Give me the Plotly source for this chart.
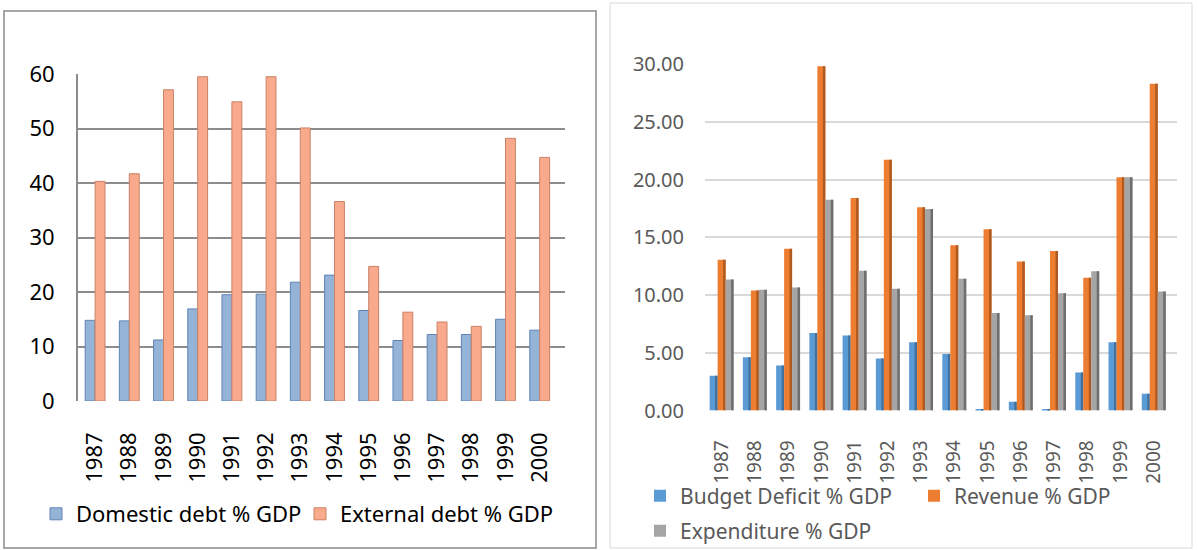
import plotly.graph_objects as go

W, H = 1198, 550

years = ["1987", "1988", "1989", "1990", "1991", "1992", "1993",
         "1994", "1995", "1996", "1997", "1998", "1999", "2000"]

domestic_debt = [14.8, 14.7, 11.2, 16.9, 19.5, 19.6, 21.8, 23.1, 16.6, 11.1, 12.2, 12.2, 15.0, 13.0]
external_debt = [40.3, 41.7, 57.1, 59.5, 54.9, 59.5, 50.1, 36.6, 24.7, 16.3, 14.5, 13.7, 48.2, 44.7]

budget_deficit = [3.0, 4.6, 3.9, 6.7, 6.5, 4.5, 5.9, 4.9, 0.05, 0.75, 0.1, 3.3, 5.9, 1.45]
revenue = [13.05, 10.4, 14.0, 29.8, 18.4, 21.7, 17.6, 14.3, 15.7, 12.9, 13.8, 11.5, 20.2, 28.3]
expenditure = [11.35, 10.45, 10.65, 18.25, 12.1, 10.55, 17.45, 11.4, 8.45, 8.25, 10.15, 12.05, 20.2, 10.3]

left_ticks = [0, 10, 20, 30, 40, 50, 60]
right_ticks = [0, 5, 10, 15, 20, 25, 30]


def px(x):
    return x / W


def py(y):
    return 1 - y / H


FONT = "Noto Sans"

fig = go.Figure()

# Left chart
fig.add_trace(go.Bar(x=years, y=domestic_debt, name="Domestic debt % GDP",
                     width=0.29, offset=-0.29,
                     marker=dict(color="#95B3D7", line=dict(color="#5F83B4", width=1)),
                     xaxis="x", yaxis="y", legend="legend"))
fig.add_trace(go.Bar(x=years, y=external_debt, name="External debt % GDP",
                     width=0.29, offset=0.0,
                     marker=dict(color="#F9AA8C", line=dict(color="#C98168", width=1)),
                     xaxis="x", yaxis="y", legend="legend"))

# Right chart (front faces + darker side faces for the 3-D look)
right_series = [
    ("Budget Deficit % GDP", budget_deficit, "#5B9BD5", "#41719C", -0.36, "legend2"),
    ("Revenue % GDP", revenue, "#ED7D31", "#AE5A21", -0.12, "legend2"),
    ("Expenditure % GDP", expenditure, "#A5A5A5", "#6E6E6E", 0.12, "legend3"),
]
BW = 0.24
SIDE = 0.075
for name, vals, col, dark, off, leg in right_series:
    fig.add_trace(go.Bar(x=years, y=vals, name=name, width=BW, offset=off,
                         marker=dict(color=col, line=dict(width=0)),
                         xaxis="x2", yaxis="y2", legend=leg))
    fig.add_trace(go.Bar(x=years, y=vals, name=name, width=SIDE, offset=off + BW - SIDE,
                         marker=dict(color=dark, line=dict(width=0)),
                         xaxis="x2", yaxis="y2", showlegend=False, hoverinfo="skip"))

shapes = [
    dict(type="rect", xref="paper", yref="paper", x0=px(4), x1=px(596), y0=py(11), y1=py(548),
         line=dict(color="#A6A6A6", width=2), fillcolor="rgba(0,0,0,0)", layer="below"),
    dict(type="rect", xref="paper", yref="paper", x0=px(610), x1=px(1192), y0=py(3), y1=py(548),
         line=dict(color="#D9D9D9", width=1), fillcolor="rgba(0,0,0,0)", layer="below"),
]

fig.update_layout(
    width=W, height=H,
    margin=dict(l=0, r=0, t=0, b=0, autoexpand=False),
    paper_bgcolor="white", plot_bgcolor="white",
    barmode="overlay",
    showlegend=True,
    shapes=shapes,
    font=dict(family=FONT, color="#000000"),
    xaxis=dict(domain=[px(78), px(565)], range=[-0.5, 13.74], type="category",
               tickangle=-90, tickfont=dict(size=22, color="#000000"),
               showgrid=False, showline=False, ticks="", ticklabelstandoff=26,
               automargin=False, anchor="y"),
    yaxis=dict(domain=[py(401), py(74)], range=[0, 60], tickvals=left_ticks,
               tickfont=dict(size=22, color="#000000"),
               showgrid=True, gridcolor="#8C8C8C", gridwidth=2,
               showline=True, linecolor="#8C8C8C", linewidth=2,
               zeroline=False, ticks="", ticklabelstandoff=17,
               automargin=False, anchor="x"),
    xaxis2=dict(domain=[px(705), px(1177)], range=[-0.5, 13.7], type="category",
                tickangle=-90, tickfont=dict(size=19, color="#595959"),
                showgrid=False, showline=False, ticks="", ticklabelstandoff=25,
                automargin=False, anchor="y2"),
    yaxis2=dict(domain=[py(410.5), py(64)], range=[0, 30], tickvals=right_ticks,
                tickformat=".2f", tickfont=dict(size=20, color="#595959"),
                showgrid=True, gridcolor="#D9D9D9", gridwidth=2,
                showline=False, zeroline=False, ticks="", ticklabelstandoff=20,
                automargin=False, anchor="x2"),
    legend=dict(orientation="h", x=px(36), y=py(514), xanchor="left", yanchor="middle",
                font=dict(size=22, color="#000000"), entrywidth=219, entrywidthmode="pixels",
                bgcolor="rgba(0,0,0,0)"),
    legend2=dict(orientation="h", x=px(640), y=py(496), xanchor="left", yanchor="middle",
                 font=dict(size=21, color="#595959"), entrywidth=229, entrywidthmode="pixels",
                 bgcolor="rgba(0,0,0,0)"),
    legend3=dict(orientation="h", x=px(640), y=py(531), xanchor="left", yanchor="middle",
                 font=dict(size=21, color="#595959"),
                 bgcolor="rgba(0,0,0,0)"),
)

fig.write_html("out.html")
